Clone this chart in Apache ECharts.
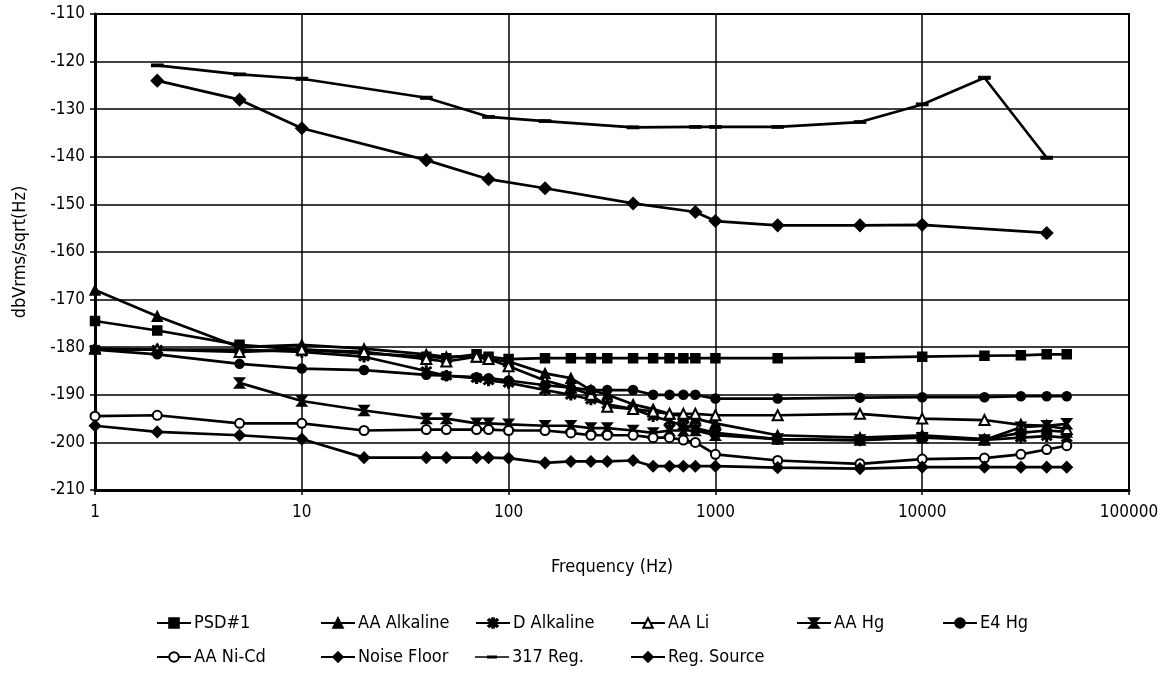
<!DOCTYPE html>
<html>
<head>
<meta charset="utf-8">
<script src="https://cdn.jsdelivr.net/npm/echarts@6/dist/echarts.min.js"></script>
<style>
  html, body { margin: 0; padding: 0; background: #fff; }
  #echarts { width: 1171px; height: 674px; }
</style>
</head>
<body>
<div id="echarts"></div>
<script>
// frequencies (Hz) shared by the battery / floor measurements
var freqs = [1, 2, 5, 10, 20, 40, 50, 70, 80, 100, 150, 200, 250, 300, 400, 500, 600, 700, 800,
  1000, 2000, 5000, 10000, 20000, 30000, 40000, 50000];

var psd1 = [-174.5, -176.5, -179.5, -180.5, -181.3, -182, -182.3, -181.5, -182, -182.5, -182.3, -182.3, -182.3, -182.3, -182.3, -182.3, -182.3, -182.3, -182.3,
  -182.3, -182.3, -182.2, -182, -181.8, -181.7, -181.5, -181.5];
var aaAlkaline = [-168, -173.5, -180, -179.5, -180.3, -181.5, -182, -182, -182.5, -183, -185.5, -186.5, -189, -190, -192, -193, -194, -194.5, -195,
  -196, -198.5, -199, -198.5, -199.3, -198, -197.5, -197.8];
var dAlkaline = [-180.5, -180.5, -180.5, -181, -182, -185, -186, -186.5, -187, -187.5, -189, -190, -191, -192, -193, -194.5, -195.5, -196.5, -197,
  -198, -199.3, -199.6, -198.8, -199.5, -199, -198.7, -199];
var aaLi = [-180.3, -180.5, -181, -180.5, -181, -182.5, -183, -182, -182.5, -184, -187, -188.5, -190, -192.5, -193, -193.5, -194, -194, -194,
  -194.3, -194.3, -194, -195, -195.3, -196.3, -196.5, -197.2];
var aaHg = [null, null, -187.5, -191.3, -193.3, -195, -195, -196, -196, -196.2, -196.5, -196.5, -197, -197, -197.5, -198, -197.5, -197.5, -197.5,
  -198.5, -199.3, -199.5, -199, -199.5, -196.8, -196.5, -196.1];
var e4Hg = [-180.5, -181.5, -183.5, -184.5, -184.8, -185.8, -186, -186.3, -186.5, -187, -188, -188.5, -189, -189, -189, -190, -190, -190, -190,
  -190.8, -190.8, -190.6, -190.5, -190.5, -190.3, -190.3, -190.3];
var aaNiCd = [-194.5, -194.3, -196, -196, -197.5, -197.3, -197.3, -197.3, -197.3, -197.5, -197.5, -198, -198.5, -198.5, -198.5, -199, -199, -199.5, -200,
  -202.5, -203.8, -204.5, -203.5, -203.3, -202.5, -201.5, -200.7];
var noiseFloor = [-196.5, -197.8, -198.5, -199.3, -203.2, -203.2, -203.2, -203.2, -203.2, -203.3, -204.3, -204, -204, -204, -203.8, -205, -205, -205, -205,
  -205, -205.3, -205.5, -205.2, -205.2, -205.2, -205.2, -205.2];

// regulator measurements use their own frequency points
var regFreqs = [2, 5, 10, 40, 80, 150, 400, 800, 1000, 2000, 5000, 10000, 20000, 40000];
var reg317 = [-120.8, -122.7, -123.6, -127.6, -131.6, -132.5, -133.8, -133.7, -133.7, -133.7, -132.7, -129, -123.4, -140.2];
var regSourceFreqs = [2, 5, 10, 40, 80, 150, 400, 800, 1000, 2000, 5000, 10000, 40000];
var regSource = [-124, -128, -134, -140.7, -144.7, -146.6, -149.8, -151.6, -153.5, -154.4, -154.4, -154.3, -156];

var xTicks = [1, 10, 100, 1000, 10000, 100000];

function pairs(xs, ys) {
  var out = [];
  for (var i = 0; i < xs.length; i++) {
    if (ys[i] !== null) out.push([xs[i], ys[i]]);
  }
  return out;
}

var FONT = "'Liberation Sans Narrow', 'DejaVu Sans Condensed', 'Liberation Sans', sans-serif";
var asterisk = 'path://M4.2,0 L5.8,0 L5.8,10 L4.2,10 Z M0,2 L1.1,0.9 L10,8 L8.9,9.1 Z M8.9,0.9 L10,2 L1.1,9.1 L0,8 Z';
var hgMark = 'path://M0,0 L10,0 L6,5 L10,10 L0,10 L4,5 Z';
// legend icon for 317 Reg.: thin line with a short dash; tiny corner dots keep the box 34x12
var dashIcon = 'path://M0,0 L0.05,0 L0,0.05 Z M34,12 L33.95,12 L34,11.95 Z M0,5.2 L34,5.2 L34,6.8 L0,6.8 Z M12,4.5 L22,4.5 L22,7.5 L12,7.5 Z';

var defs = [
  { name: 'PSD#1', data: pairs(freqs, psd1), symbol: 'rect', size: 9 },
  { name: 'AA Alkaline', data: pairs(freqs, aaAlkaline), symbol: 'triangle', size: 10 },
  { name: 'D Alkaline', data: pairs(freqs, dAlkaline), symbol: asterisk, size: 10 },
  { name: 'AA Li', data: pairs(freqs, aaLi), symbol: 'emptyTriangle', size: 10 },
  { name: 'AA Hg', data: pairs(freqs, aaHg), symbol: hgMark, size: 10 },
  { name: 'E4 Hg', data: pairs(freqs, e4Hg), symbol: 'circle', size: 9 },
  { name: 'AA Ni-Cd', data: pairs(freqs, aaNiCd), symbol: 'emptyCircle', size: 9 },
  { name: 'Noise Floor', data: pairs(freqs, noiseFloor), symbol: 'diamond', size: 11 },
  { name: '317 Reg.', data: pairs(regFreqs, reg317), symbol: 'rect', size: [10, 3], icon: dashIcon },
  { name: 'Reg. Source', data: pairs(regSourceFreqs, regSource), symbol: 'diamond', size: 12 }
];

var series = defs.map(function (d) {
  return {
    name: d.name,
    type: 'line',
    data: d.data,
    symbol: d.symbol,
    symbolSize: d.size,
    showAllSymbol: true,
    animation: false,
    lineStyle: { color: '#000', width: 2.7 },
    itemStyle: { color: '#000', borderColor: '#000', borderWidth: 1.5 }
  };
});

// legend laid out on a fixed grid like the original
var legendCols = [156, 320, 475, 630, 796, 942];
var legendRows = [614, 648];
var legends = defs.map(function (d, i) {
  var row = Math.floor(i / 6), col = i % 6;
  var item = d.icon ? { name: d.name, icon: d.icon, itemStyle: { borderWidth: 0 } } : d.name;
  return {
    data: [item],
    left: legendCols[col],
    top: legendRows[row],
    padding: 0,
    itemWidth: 34,
    itemHeight: 12,
    itemGap: 4,
    textStyle: { fontFamily: FONT, fontSize: 18, color: '#000', padding: [0, 0, 0, -2] }
  };
});

var myChart = echarts.init(document.getElementById('echarts'));
myChart.setOption({
  backgroundColor: '#fff',
  animation: false,
  color: ['#000'],
  grid: {
    left: 95, right: 42, top: 14, bottom: 184,
    show: true, borderColor: '#000', borderWidth: 2
  },
  legend: legends,
  xAxis: {
    type: 'log',
    logBase: 10,
    min: xTicks[0],
    max: xTicks[xTicks.length - 1],
    name: 'Frequency (Hz)',
    nameLocation: 'middle',
    nameGap: 68,
    nameTextStyle: { fontFamily: FONT, fontSize: 18, color: '#000' },
    axisLine: { lineStyle: { color: '#000', width: 3 } },
    axisTick: { show: true, length: 5, lineStyle: { color: '#000', width: 1.5 } },
    axisLabel: {
      margin: 14, fontFamily: FONT, fontSize: 17, color: '#000',
      formatter: function (v) { return String(Math.round(v)); }
    },
    splitLine: { show: true, lineStyle: { color: '#000', width: 1.5 } },
    minorTick: { show: false },
    minorSplitLine: { show: false }
  },
  yAxis: {
    type: 'value',
    min: -210,
    max: -110,
    interval: 10,
    name: 'dbVrms/sqrt(Hz)',
    nameLocation: 'middle',
    nameGap: 66,
    nameTextStyle: { fontFamily: FONT, fontSize: 18, color: '#000' },
    axisLine: { show: true, lineStyle: { color: '#000', width: 3 } },
    axisTick: { show: true, length: 5, lineStyle: { color: '#000', width: 1.5 } },
    axisLabel: { margin: 10, fontFamily: FONT, fontSize: 17, color: '#000' },
    splitLine: { show: true, lineStyle: { color: '#000', width: 1.5 } }
  },
  series: series
});
</script>
</body>
</html>
